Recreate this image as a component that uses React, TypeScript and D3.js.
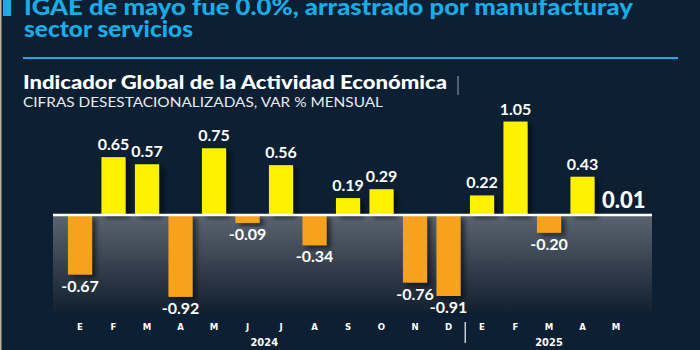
import { useEffect, useRef } from 'react'
import * as d3 from 'd3'

// data
const months = ['E', 'F', 'M', 'A', 'M', 'J', 'J', 'A', 'S', 'O', 'N', 'D', 'E', 'F', 'M', 'A', 'M']
const years = ['2024', '2024', '2024', '2024', '2024', '2024', '2024', '2024', '2024', '2024', '2024', '2024', '2025', '2025', '2025', '2025', '2025']
const values = [-0.67, 0.65, 0.57, -0.92, 0.75, -0.09, 0.56, -0.34, 0.19, 0.29, -0.76, -0.91, 0.22, 1.05, -0.2, 0.43, 0.01]
const yearLabels = ['2024', '2025']

const title = ['IGAE de mayo fue 0.0%, arrastrado por manufacturay', 'sector servicios']
const titleWidths = [609, 169]
const subtitle = 'Indicador Global de la Actividad Económica'
const subtitle2 = 'CIFRAS DESESTACIONALIZADAS, VAR % MENSUAL'

const W = 700
const H = 350
const BG = '#0c1f33'
const CYAN = '#18ade6'
const YELLOW = '#fff200'
const ORANGE = '#f7a21c'

export default function App() {
  const svgRef = useRef<SVGSVGElement>(null)

  useEffect(() => {
    if (!svgRef.current) return
    const svg = d3.select(svgRef.current)
    svg.selectAll('*').remove()

    const keys = months.map((m, i) => `${years[i]}-${i}`)

    const x = d3.scaleBand()
      .domain(keys)
      .range([63.25, 632.75])
      .paddingInner(0.28)
      .paddingOuter(0.14)

    const y = d3.scaleLinear()
      .domain([-1, 1.2])
      .range([304, 108.2])

    const defs = svg.append('defs')
    const grad = defs.append('linearGradient')
      .attr('id', 'panel')
      .attr('x1', 0).attr('x2', 0).attr('y1', 0).attr('y2', 1)
    grad.append('stop').attr('offset', '0%').attr('stop-color', '#5b6471')
    grad.append('stop').attr('offset', '55%').attr('stop-color', '#333e4c')
    grad.append('stop').attr('offset', '100%').attr('stop-color', '#12202f')

    const shadow = defs.append('filter')
      .attr('id', 'shadow')
      .attr('x', '-20%').attr('y', '-20%').attr('width', '160%').attr('height', '160%')
    shadow.append('feDropShadow')
      .attr('dx', 4).attr('dy', 3)
      .attr('stdDeviation', 2.5)
      .attr('flood-color', '#000')
      .attr('flood-opacity', 0.55)

    // background
    svg.append('rect').attr('width', W).attr('height', H).attr('fill', BG)
    svg.append('rect').attr('x', 0).attr('y', 0).attr('width', 1.5).attr('height', H).attr('fill', '#bfb39c')

    // title block
    svg.append('rect').attr('x', 3).attr('y', 0).attr('width', 8).attr('height', 16).attr('fill', CYAN)
    title.forEach((t, i) => {
      svg.append('text')
        .attr('x', 24)
        .attr('y', 15 + i * 22)
        .attr('fill', CYAN)
        .attr('textLength', titleWidths[i])
        .attr('lengthAdjust', 'spacingAndGlyphs')
        .style('font-family', 'Lato, sans-serif')
        .style('font-weight', 900)
        .style('font-size', '22px')
        .text(t)
    })
    svg.append('line')
      .attr('x1', 23).attr('x2', 678)
      .attr('y1', 58).attr('y2', 58)
      .attr('stroke', CYAN).attr('stroke-width', 2)

    svg.append('text')
      .attr('x', 23).attr('y', 89)
      .attr('fill', '#ffffff')
      .attr('textLength', 424)
      .attr('lengthAdjust', 'spacingAndGlyphs')
      .style('font-family', 'Lato, sans-serif')
      .style('font-weight', 900)
      .style('font-size', '18px')
      .text(subtitle)
    svg.append('line')
      .attr('x1', 458).attr('x2', 458)
      .attr('y1', 76).attr('y2', 95)
      .attr('stroke', '#9aa3ad').attr('stroke-width', 1)
    svg.append('text')
      .attr('x', 23).attr('y', 107)
      .attr('fill', '#e8ecf0')
      .attr('textLength', 360)
      .attr('lengthAdjust', 'spacingAndGlyphs')
      .style('font-family', 'Lato, sans-serif')
      .style('font-weight', 400)
      .style('font-size', '12.5px')
      .text(subtitle2)

    // grey panel under zero
    svg.append('rect')
      .attr('x', 53).attr('y', y(0))
      .attr('width', 599).attr('height', 97)
      .attr('fill', 'url(#panel)')

    // bars
    const g = svg.append('g')
    values.forEach((v, i) => {
      if (Math.abs(v) < 0.02) return
      const bx = x(keys[i])!
      g.append('rect')
        .attr('x', bx)
        .attr('y', v >= 0 ? y(v) : y(0))
        .attr('width', x.bandwidth())
        .attr('height', Math.abs(y(v) - y(0)))
        .attr('fill', v >= 0 ? YELLOW : ORANGE)
        .attr('filter', 'url(#shadow)')
    })

    // zero line
    svg.append('line')
      .attr('x1', 53).attr('x2', 652)
      .attr('y1', y(0)).attr('y2', y(0))
      .attr('stroke', '#ffffff').attr('stroke-width', 2.5)

    // value labels
    values.forEach((v, i) => {
      const cx = x(keys[i])! + x.bandwidth() / 2
      const last = i === values.length - 1
      if (last) {
        svg.append('text')
          .attr('x', x(keys[i])! - 2)
          .attr('y', y(0) - 7)
          .attr('fill', '#ffffff')
          .style('font-family', 'Lato, sans-serif')
          .style('font-weight', 900)
          .style('font-size', '22px')
          .text(v.toFixed(2))
        return
      }
      svg.append('text')
        .attr('x', cx)
        .attr('y', v >= 0 ? y(v) - 7 : y(v) + 17)
        .attr('text-anchor', 'middle')
        .attr('fill', '#ffffff')
        .style('font-family', 'Lato, sans-serif')
        .style('font-weight', 700)
        .style('font-size', '16px')
        .text(v.toFixed(2))
    })

    // month axis
    const axis = svg.append('g')
    months.forEach((m, i) => {
      axis.append('text')
        .attr('x', x(keys[i])! + x.bandwidth() / 2)
        .attr('y', 330)
        .attr('text-anchor', 'middle')
        .attr('fill', '#ffffff')
        .style('font-family', '"DejaVu Sans Condensed", "DejaVu Sans", sans-serif')
        .style('font-weight', 700)
        .style('font-size', '9.5px')
        .text(m)
    })
    yearLabels.forEach(yr => {
      const idx = years.map((d, i) => (d === yr ? i : -1)).filter(i => i >= 0)
      const x0 = x(keys[idx[0]])!
      const x1 = x(keys[idx[idx.length - 1]])! + x.bandwidth()
      axis.append('text')
        .attr('x', (x0 + x1) / 2)
        .attr('y', 346)
        .attr('text-anchor', 'middle')
        .attr('fill', '#ffffff')
        .style('font-family', '"DejaVu Sans Condensed", "DejaVu Sans", sans-serif')
        .style('font-weight', 700)
        .style('font-size', '11px')
        .text(yr)
    })
    // divider between years
    const split = years.indexOf('2025')
    const sx = (x(keys[split - 1])! + x.bandwidth() + x(keys[split])!) / 2
    axis.append('line')
      .attr('x1', sx).attr('x2', sx)
      .attr('y1', 322).attr('y2', 343)
      .attr('stroke', '#c9ccd0').attr('stroke-width', 1.5)
  }, [])

  return (
    <svg
      ref={svgRef}
      width={W}
      height={H}
      style={{ position: 'fixed', left: 0, top: 0, display: 'block' }}
    />
  )
}
